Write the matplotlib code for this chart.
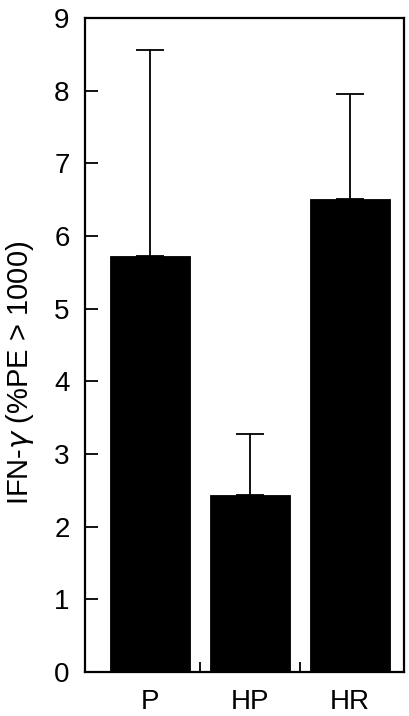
import matplotlib

matplotlib.use("Agg")
import matplotlib.pyplot as plt
import numpy as np

plt.rcParams["font.family"] = ["Liberation Sans", "DejaVu Sans"]

groups = ["P", "HP", "HR"]
means = [5.72, 2.43, 6.51]
upper_err = [2.84, 0.85, 1.45]
y_ticks = list(range(0, 10))

fig = plt.figure(figsize=(4.09, 7.16), dpi=100)
ax = fig.add_axes([85 / 409, 1 - 672 / 716, 319 / 409, 654 / 716])

x = np.arange(len(groups))
ax.bar(x, means, width=0.8, color="black", edgecolor="black", linewidth=0.6)
ax.errorbar(x, means, yerr=[np.zeros(len(groups)), upper_err], fmt="none",
            ecolor="black", elinewidth=1.3, capsize=10, capthick=1.3)

ax.set_xlim(-0.65, 2.54)
ax.set_ylim(0, 9)
ax.set_yticks(y_ticks)
ax.set_xticks(x)
ax.set_xticklabels(groups)
ax.set_xticks([0.5, 1.5], minor=True)
ax.tick_params(axis="x", which="major", length=0, pad=12, labelsize=20)
ax.tick_params(axis="x", which="minor", direction="in", length=7, width=1.3)
ax.tick_params(axis="y", direction="in", length=9, width=1.3, labelsize=20, pad=11)
for s in ax.spines.values():
    s.set_linewidth(1.6)

# y label sits a little below the axes centre in the original
fig.text(20 / 409, 1 - 373 / 716, r"IFN-$\it{\gamma}$ (%PE > 1000)", fontsize=21,
         rotation=90, ha="center", va="center")

fig.savefig("out.png", dpi=100)
